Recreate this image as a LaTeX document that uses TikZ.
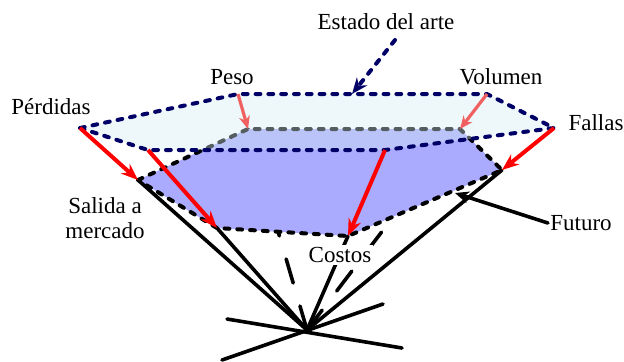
\documentclass[tikz,border=0pt]{standalone}
\usepackage{fontspec}
\setmainfont{Liberation Serif}
\usepackage{xcolor}
\usetikzlibrary{positioning, arrows.meta, calc}

\definecolor{navyline}{RGB}{0,0,102}
\definecolor{topfill}{RGB}{212,235,242}
\definecolor{midfill}{RGB}{170,170,255}
\definecolor{salmon}{RGB}{240,96,96}

\begin{document}
\begin{tikzpicture}[
    x=0.5pt, y=-0.5pt,
    lbl/.style={font=\fontsize{11.5}{12.5}\selectfont, inner sep=1pt},
    dashedge/.style={line width=2pt, dash pattern=on 2.4pt off 4pt, line cap=round},
    coneline/.style={line width=1.8pt, line cap=round},
    hiddenline/.style={coneline, dash pattern=on 12.5pt off 12pt},
    redarrow/.style={-{Stealth[length=8.5pt,width=6.5pt]}, red, line width=2pt},
    softarrow/.style={-{Stealth[length=6.5pt,width=5.5pt]}, salmon, line width=1.6pt}
]
\useasboundingbox (0,0) rectangle (624,361);

% vertices
\coordinate (apex) at (307,330);
\coordinate (perd) at (80,128);
\coordinate (peso) at (238,94);
\coordinate (vol) at (487,94);
\coordinate (fall) at (554,128);
\coordinate (ob) at (385,150);
\coordinate (obl) at (148,150);
\coordinate (sal) at (138,180);
\coordinate (mtl) at (248,129);
\coordinate (mtr) at (460,129);
\coordinate (mr) at (502,170);
\coordinate (cost) at (348,236);
\coordinate (mbl) at (217,228);
\coordinate (lega) at (227,319);
\coordinate (legb) at (402,348);
\coordinate (legc) at (222,360);
\coordinate (legd) at (383,304);

% hidden edges of the cone
\draw[hiddenline] (apex) -- (mtl);
\draw[hiddenline] (apex) -- (mtr);

% layers
\filldraw[fill=midfill, draw=black, dashedge] (sal) -- (mtl) -- (mtr) -- (mr) -- (cost) -- (mbl) -- cycle;
\fill[topfill, fill opacity=0.4] (perd) -- (peso) -- (vol) -- (fall) -- (ob) -- (obl) -- cycle;
\draw[navyline, dashedge] (perd) -- (peso) -- (vol) -- (fall) -- (ob) -- (obl) -- cycle;

% cone
\draw[coneline] (apex) -- (sal);
\draw[coneline] (apex) -- (mbl);
\draw[coneline] (apex) -- (cost);
\draw[coneline] (apex) -- (mr);
\draw[coneline] (lega) -- (legb);
\draw[coneline] (legc) -- (legd);

% labels
\node[lbl] (estado) at (386,22) {Estado del arte};
\node[lbl] (pesolbl) at (232,77) {Peso};
\node[lbl] (vollbl) at (501,77) {Volumen};
\node[lbl] (perdlbl) at (51,107) {Pérdidas};
\node[lbl] (falllbl) at (596,123) {Fallas};
\node[lbl, align=center] (sallbl) at (105,218) {Salida a\\mercado};
\node[lbl, fill=white] (costlbl) at (340,255) {Costos};
\node[lbl] (futlbl) at (581,223) {Futuro};

\coordinate (esttail) at (395,40);
\coordinate (esthead) at (352,94);
\coordinate (futtip) at (455,193);

% arrows
\draw[redarrow] (perd) -- (sal);
\draw[redarrow] (obl) -- (mbl);
\draw[redarrow] (ob) -- (cost);
\draw[redarrow] (fall) -- (mr);
\draw[softarrow] (peso) -- (mtl);
\draw[softarrow] (vol) -- (mtr);
\draw[navyline, dashedge, -{Stealth[length=8pt,width=6.5pt]}] (esttail) -- (esthead);
\draw[coneline, -{Stealth[length=7pt,width=6pt]}] (futlbl.west) -- (futtip);
\end{tikzpicture}
\end{document}
